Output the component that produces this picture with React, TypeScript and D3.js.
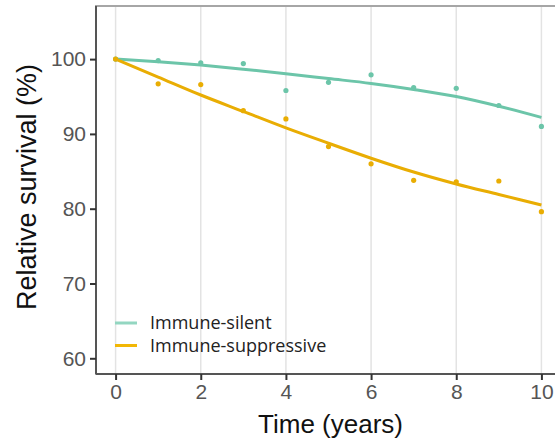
import React, { useEffect, useRef } from "react";
import * as d3 from "d3";

// observed points
const years = [0, 1, 2, 3, 4, 5, 6, 7, 8, 9, 10];
const silentPoints = [100, 99.8, 99.5, 99.4, 95.8, 96.9, 97.9, 96.2, 96.1, 93.8, 91.0];
const suppressivePoints = [100, 96.7, 96.6, 93.1, 92.0, 88.3, 86.0, 83.8, 83.6, 83.7, 79.6];

// fitted curves
const silentFit = [100, 99.65, 99.2, 98.65, 98.05, 97.4, 96.75, 95.95, 95.0, 93.7, 92.2];
const suppressiveFit = [100, 97.6, 95.2, 93.0, 90.8, 88.75, 86.75, 84.9, 83.3, 81.9, 80.5];

const xTicks = [0, 2, 4, 6, 8, 10];
const yTicks = [60, 70, 80, 90, 100];

const seriesNames = ["Immune-silent", "Immune-suppressive"];
const colors = ["#6cc5a9", "#e9ad03"];
const legendColors = ["#93d6c1", "#f2b705"];

export default function App() {
  const ref = useRef<SVGSVGElement>(null);

  useEffect(() => {
    const svg = d3.select(ref.current);
    svg.selectAll("*").remove();

    const left = 96, top = 6, right = 561, bottom = 374;

    const x = d3.scaleLinear().domain([-0.46, 10.46]).range([left, right]);
    const y = d3.scaleLinear().domain([57.9, 107.1]).range([bottom, top]);

    svg.append("rect").attr("width", 555).attr("height", 440).attr("fill", "#fff");

    // vertical grid
    svg.append("g")
      .selectAll("line")
      .data(xTicks)
      .join("line")
      .attr("x1", (d) => x(d))
      .attr("x2", (d) => x(d))
      .attr("y1", top)
      .attr("y2", bottom)
      .attr("stroke", "#e3e3e3")
      .attr("stroke-width", 1.5);

    // panel border
    svg.append("rect")
      .attr("x", left)
      .attr("y", top)
      .attr("width", right - left)
      .attr("height", bottom - top)
      .attr("fill", "none")
      .attr("stroke", "#a6a6a6")
      .attr("stroke-width", 2);

    const fits = [silentFit, suppressiveFit];
    const pts = [silentPoints, suppressivePoints];

    const line = d3.line<number>()
      .x((d, i) => x(years[i]))
      .y((d) => y(d))
      .curve(d3.curveMonotoneX);

    fits.forEach((f, k) => {
      svg.append("path")
        .datum(f)
        .attr("d", line)
        .attr("fill", "none")
        .attr("stroke", colors[k])
        .attr("stroke-width", 3);
    });

    pts.forEach((p, k) => {
      svg.append("g")
        .selectAll("circle")
        .data(p)
        .join("circle")
        .attr("cx", (d, i) => x(years[i]))
        .attr("cy", (d) => y(d))
        .attr("r", 2.6)
        .attr("fill", colors[k]);
    });

    // axes
    const xAxis = svg.append("g")
      .attr("transform", `translate(0,${bottom})`)
      .call(d3.axisBottom(x).tickValues(xTicks).tickSize(6).tickPadding(4));
    const yAxis = svg.append("g")
      .attr("transform", `translate(${left},0)`)
      .call(d3.axisLeft(y).tickValues(yTicks).tickSize(6).tickPadding(4));

    [xAxis, yAxis].forEach((a) => {
      a.select(".domain").attr("stroke", "#555").attr("stroke-width", 2);
      a.selectAll(".tick line").attr("stroke", "#333").attr("stroke-width", 2);
      a.selectAll(".tick text")
        .attr("fill", "#555")
        .style("font-family", "Liberation Sans, Arial, sans-serif")
        .style("font-size", "21px");
    });
    xAxis.select(".domain").attr("d", `M${left},0H${right}`);
    yAxis.select(".domain").attr("d", `M0,${top}V${bottom}`);

    svg.append("text")
      .attr("x", (x(0) + x(10)) / 2 + 2)
      .attr("y", 433)
      .attr("text-anchor", "middle")
      .style("font-family", "Liberation Sans, Arial, sans-serif")
      .style("font-size", "26px")
      .attr("fill", "#111")
      .text("Time (years)");

    svg.append("text")
      .attr("transform", `translate(36,${187}) rotate(-90)`)
      .attr("text-anchor", "middle")
      .style("font-family", "Liberation Sans, Arial, sans-serif")
      .style("font-size", "27px")
      .attr("fill", "#111")
      .text("Relative survival (%)");

    // legend
    const leg = svg.append("g");
    seriesNames.forEach((name, k) => {
      const ly = 323 + k * 22.5;
      leg.append("line")
        .attr("x1", 115)
        .attr("x2", 137)
        .attr("y1", ly)
        .attr("y2", ly)
        .attr("stroke", legendColors[k])
        .attr("stroke-width", 3);
      leg.append("text")
        .attr("x", 150)
        .attr("y", ly + 6)
        .style("font-family", "Open Sans, sans-serif")
        .style("font-size", "18px")
        .attr("fill", "#222")
        .text(name);
    });
  }, []);

  return (
    <svg
      ref={ref}
      width={555}
      height={440}
      style={{ position: "absolute", left: 0, top: 0 }}
    />
  );
}
